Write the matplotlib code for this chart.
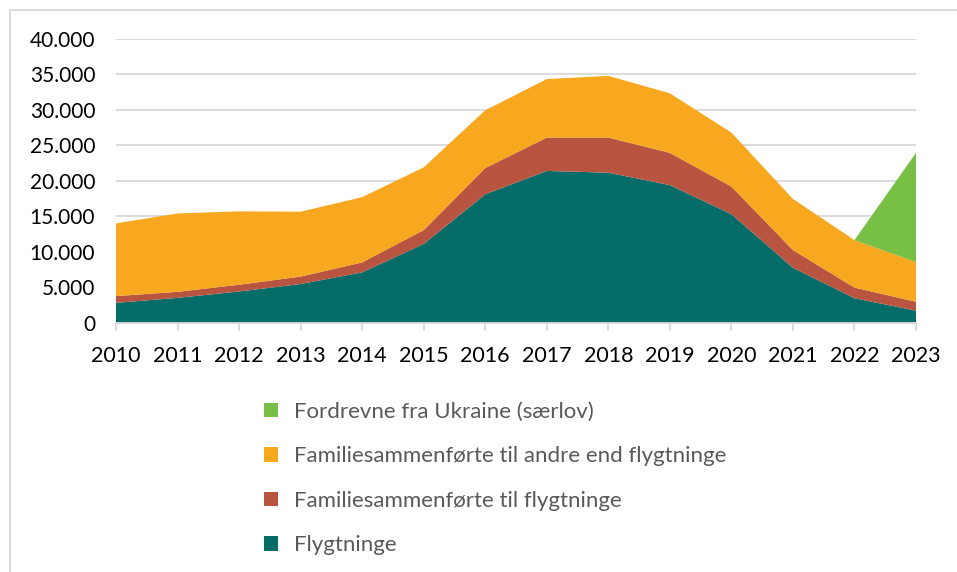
import numpy as np
import matplotlib.pyplot as plt
from matplotlib.patches import Patch, Rectangle

# =========================
# DATA
# =========================

years = [2010, 2011, 2012, 2013, 2014, 2015, 2016, 2017, 2018, 2019, 2020, 2021, 2022, 2023]

flygtninge = [2800, 3500, 4400, 5450, 7100, 11100, 18100, 21400, 21150, 19400, 15300, 7750, 3450, 1700]
fam_flygtninge = [950, 850, 950, 1050, 1400, 1950, 3700, 4700, 4950, 4550, 3900, 2500, 1500, 1250]
fam_andre = [10250, 11050, 10350, 9150, 9200, 8850, 8150, 8250, 8700, 8400, 7600, 7200, 6700, 5600]
ukraine = [0, 0, 0, 0, 0, 0, 0, 0, 0, 0, 0, 0, 0, 15400]

labels = [
    "Flygtninge",
    "Familiesammenførte til flygtninge",
    "Familiesammenførte til andre end flygtninge",
    "Fordrevne fra Ukraine (særlov)",
]
colors = ["#066C68", "#B85440", "#F7A81E", "#78BF45"]

yticks = [0, 5000, 10000, 15000, 20000, 25000, 30000, 35000, 40000]
ytick_labels = ["0", "5.000", "10.000", "15.000", "20.000", "25.000", "30.000", "35.000", "40.000"]

GRID = "#D9D9D9"

plt.rcParams["font.family"] = ["Lato", "DejaVu Sans"]

W, H = 957, 572
fig = plt.figure(figsize=(W / 100, H / 100), dpi=100)
ax = fig.add_axes([116 / W, 1 - 322.7 / H, 800 / W, 283.7 / H])

ax.stackplot(years, flygtninge, fam_flygtninge, fam_andre, ukraine,
             colors=colors, linewidth=0)

ax.set_xlim(years[0], years[-1])
ax.set_ylim(0, 40000)
ax.set_xticks(years)
ax.set_xticklabels([str(y) for y in years])
ax.set_yticks(yticks)
ax.set_yticklabels(ytick_labels)

ax.grid(axis="y", color=GRID, linewidth=1.3)
ax.set_axisbelow(True)
for s in ["top", "right", "left"]:
    ax.spines[s].set_visible(False)
ax.spines["bottom"].set_color(GRID)
ax.spines["bottom"].set_linewidth(1.3)

ax.tick_params(axis="x", length=6, width=1.3, color=GRID, pad=11, labelsize=15.5)
ax.tick_params(axis="y", length=0, pad=15, labelsize=15)

# legend, reversed stacking order
handles = [Patch(facecolor=c, edgecolor="none") for c in colors][::-1]
leg = fig.legend(handles, labels[::-1], loc="upper left",
                 bbox_to_anchor=(244 / W, 1 - 382 / H),
                 frameon=False, fontsize=16, labelcolor="#595959",
                 handlelength=0.62, handleheight=0.62, handletextpad=0.72,
                 labelspacing=1.1)

# light frame around the chart area
fig.add_artist(Rectangle((10 / W, -0.05), 1.1, 1 - 10 / H + 0.05,
                         transform=fig.transFigure, fill=False,
                         edgecolor=GRID, linewidth=1.3))

fig.savefig("out.png", dpi=100)
